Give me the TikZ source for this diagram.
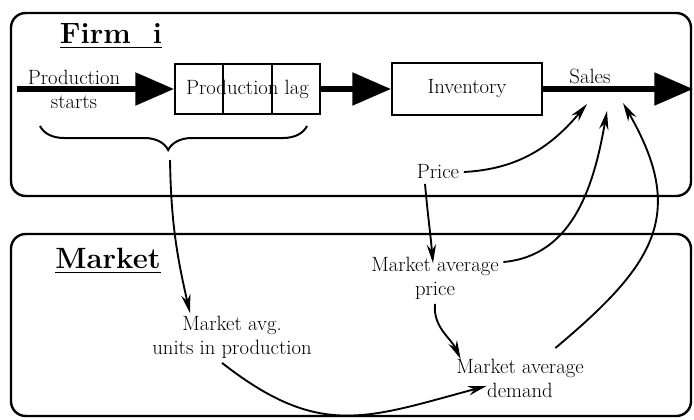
\documentclass[tikz,border=0pt]{standalone}
\usepackage{amsmath}
\usepackage{tikz}
\usetikzlibrary{arrows.meta}
\usetikzlibrary{positioning}
\usetikzlibrary{calc}
\usetikzlibrary{decorations.pathreplacing}
\tikzstyle{panel} = [line width = 1.8pt, rounded corners = 11pt]
\tikzstyle{block} = [draw, rectangle, line width = 1.5pt, inner sep = 0pt]
\tikzstyle{txt} = [align = center, font = \fontsize{15.5}{18}\selectfont]
\tikzstyle{heading} = [font = \fontsize{22}{26}\selectfont\bfseries]
\tikzstyle{flow} = [line width = 4pt, -{Triangle[length = 29pt, width = 24pt]}]
\tikzstyle{arrow} = [line width = 1.4pt, -{Stealth[length = 14pt, width = 7pt]}]

\begin{document}
\begin{tikzpicture}[x = 0.75pt, y = 0.75pt]
	\useasboundingbox (0,0) rectangle (694,419);
	
	% Frames
	\draw[panel] (11,406) rectangle (691,223);
	\draw[panel] (11,185) rectangle (691,3);
	\node[heading] (firm) at (111,383) {\underline{Firm\ \ i}};
	\node[heading] (market) at (108,158) {\underline{Market}};
	
	% Production chain
	\coordinate (start) at (17,330);
	\node[txt] (starts) at (74,330) {Production\\starts};
	\node[block, txt, minimum width = 108.75pt, minimum height = 38pt] (lag) at (247.5,330) {Production lag};
	\draw[line width = 1.5pt] ($(lag.north west)!1/3!(lag.north east)$) -- ($(lag.south west)!1/3!(lag.south east)$);
	\draw[line width = 1.5pt] ($(lag.north west)!2/3!(lag.north east)$) -- ($(lag.south west)!2/3!(lag.south east)$);
	\node[block, txt, minimum width = 112.5pt, minimum height = 39pt, right = 52.5pt of lag] (inv) {Inventory};
	\coordinate (end) at (693,330);
	\node[txt] (sales) at (590,343) {Sales};
	\coordinate (s1) at (587,315);
	\coordinate (s2) at (607,308);
	\coordinate (s3) at (623,316);
	
	% Brace
	\coordinate (bl) at (40,293);
	\coordinate (br) at (307,293);
	\coordinate (btip) at (170,259);
	\draw[decorate, decoration = {brace, amplitude = 18pt, aspect = 0.52}, line width = 1.5pt] (br) -- (bl);
	
	% Market quantities
	\node[txt] (price) at (438,247) {Price};
	\node[txt] (avgprice) at (435,141) {Market average\\price};
	\node[txt] (units) at (232,82) {Market avg.\\units in production};
	\node[txt] (demand) at (520,41) {Market average\\demand};
	
	% Connect all nodes defined above
	\draw[flow] (start) -- (lag.west);
	\draw[flow] (lag) -- (inv);
	\draw[flow] (inv) -- (end);
	\draw[arrow] (btip) to[out = -89, in = 103] ($(units.north)+(-42,-2)$);
	\draw[arrow] (price.east) to[out = 3, in = -130] (s1);
	\draw[arrow] ($(price.south)+(-13,0)$) to[out = -85, in = 95] ($(avgprice.north)+(-2,-11)$);
	\draw[arrow] ($(avgprice.east)+(0,16)$) to[out = 5, in = -100] (s2);
	\draw[arrow] (avgprice.south) to[out = -95, in = 115] ($(demand.north west)+(9,-5)$);
	\draw[arrow] ($(units.south)+(-10,0)$) to[out = -38, in = 195, looseness = 1.2] ($(demand.south west)+(35,16)$);
	\draw[arrow] ($(demand.north east)+(-33,6)$) to[out = 40, in = -60, looseness = 1.3] (s3);
	
\end{tikzpicture}
\end{document}
